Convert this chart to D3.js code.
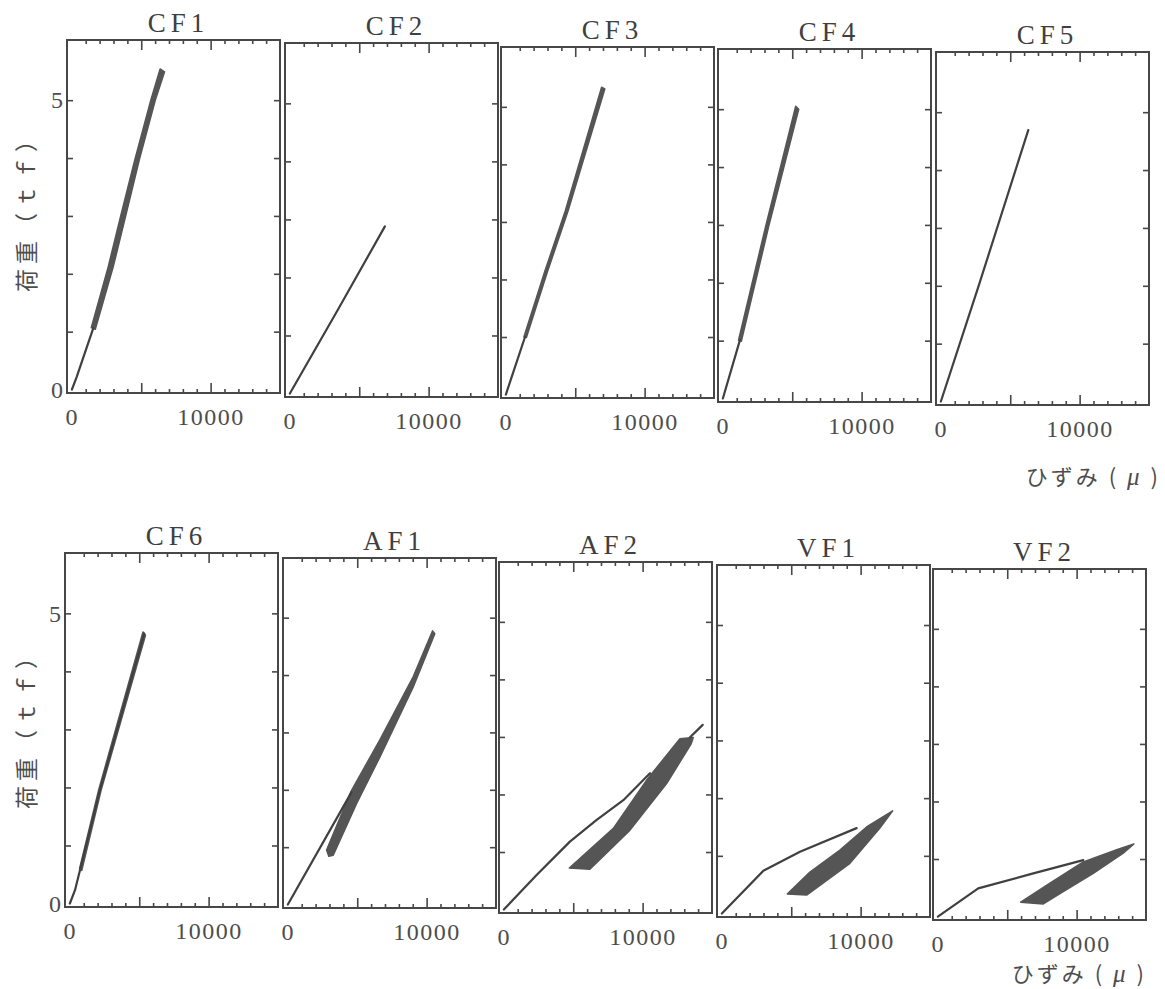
<!DOCTYPE html>
<html>
<head>
<meta charset="utf-8">
<script src="https://cdn.jsdelivr.net/npm/d3@7"></script>
<style>
body { margin: 0; background: #ffffff; }
</style>
</head>
<body>
<svg id="chart" width="1165" height="989"></svg>
<script>
// panel titles, read left to right, top row first
var panelNames = ["CF1", "CF2", "CF3", "CF4", "CF5", "CF6", "AF1", "AF2", "VF1", "VF2"];
var xTickLabels = [0, 10000];
var yTickLabels = [0, 5];

// monotonic loading curve of each specimen, [strain (μ), load (tf)]
var cf1Initial = [[0, 0], [350, 0.22], [1545, 1.06]];
var cf2Initial = [[0, 0], [3450, 1.44], [6850, 2.88]];
var cf3Initial = [[0, 0], [1380, 1.0]];
var cf4Initial = [[0, 0], [1230, 1.01]];
var cf5Initial = [[0, 0], [2700, 1.98], [6300, 4.69]];
var cf6Initial = [[0, 0], [370, 0.23], [2170, 1.96], [5360, 4.65]];
var af1Initial = [[0, 0], [4590, 1.96]];
var af2Initial = [[0, 0], [2360, 0.6], [4760, 1.18], [6690, 1.56], [8610, 1.9], [10530, 2.37]];
var vf1Initial = [[0, 0], [2990, 0.74], [5630, 1.07], [9710, 1.48]];
var vf2Initial = [[0, 0], [2910, 0.49], [6880, 0.75], [10480, 0.98]];

// outline of the repeated-load loops (up the left edge, down the right edge)
var cf1Band = [[1400, 1.07], [2620, 2.12], [3520, 3.0], [4540, 3.97], [5690, 5.0], [6360, 5.54],
               [6680, 5.49], [6010, 5.0], [4860, 3.97], [3880, 3.0], [2980, 2.12], [1690, 1.04]];
var cf2Band = [];
var cf3Band = [[1300, 1.0], [2820, 2.15], [4280, 3.19], [6900, 5.34],
               [7130, 5.31], [4480, 3.19], [3020, 2.15], [1480, 0.99]];
var cf4Band = [[1130, 1.01], [3080, 2.97], [5250, 5.05],
               [5470, 5.0], [3300, 2.97], [1330, 0.99]];
var cf5Band = [];
var cf6Band = [[700, 0.6], [2080, 1.96], [5270, 4.68], [5450, 4.62], [2260, 1.96], [860, 0.57]];
var af1Band = [[2790, 0.95], [4590, 1.99], [6630, 2.87], [9030, 3.97], [10430, 4.77],
               [10590, 4.72], [9030, 3.79], [6630, 2.57], [4950, 1.76], [3270, 0.86], [2950, 0.84]];
var af2Band = [[4720, 0.72], [7890, 1.41], [10290, 2.25], [12690, 2.97], [13650, 2.99],
               [13500, 2.88], [11730, 2.19], [9090, 1.38], [6200, 0.7]];
var vf1Band = [[4710, 0.34], [6350, 0.72], [8510, 1.1], [10430, 1.5], [12310, 1.78],
               [11390, 1.48], [9230, 0.87], [6110, 0.32]];
var vf2Band = [[5970, 0.25], [8080, 0.58], [10480, 0.95], [12890, 1.16], [14130, 1.26],
               [13360, 1.10], [11200, 0.75], [8800, 0.4], [7600, 0.22]];

// last loading up to failure
var af2Final = [[13400, 2.99], [14330, 3.21]];

var initialCurves = [cf1Initial, cf2Initial, cf3Initial, cf4Initial, cf5Initial,
                     cf6Initial, af1Initial, af2Initial, vf1Initial, vf2Initial];
var cyclicBands = [cf1Band, cf2Band, cf3Band, cf4Band, cf5Band,
                   cf6Band, af1Band, af2Band, vf1Band, vf2Band];
var finalCurves = [[], [], [], [], [], [], [], af2Final, [], []];

// frame of each panel on the page (the scan is slightly skewed)
var panelLeft = [67, 285, 501, 718, 936, 65, 283, 499, 717, 933];
var panelTop = [40, 43, 47, 49, 52, 553, 558, 562, 565, 569];
var panelBottom = [393, 397, 398, 402, 405, 907, 908, 913, 917, 920];
var panelWidth = 213;

var ink = "#474747";
var textInk = "#4d4d4d";
var numFont = "'Liberation Serif', 'DejaVu Serif', serif";
var cjkFont = "'Noto Sans CJK JP', 'Noto Sans CJK SC', sans-serif";

var svg = d3.select("#chart");

panelNames.forEach(function(name, i) {
    var left = panelLeft[i], right = panelLeft[i] + panelWidth;
    var top = panelTop[i], bottom = panelBottom[i];

    var x = d3.scaleLinear().domain([-350, 15000]).range([left, right]);
    var y = d3.scaleLinear().domain([-0.06, 6.04]).range([bottom, top]);

    var g = svg.append("g").attr("class", "panel");

    // minor and major ticks, pointing inward on all four sides
    var minorX = d3.range(1000, 15000, 1000).filter(function(v) { return v % 5000 != 0; });
    var majorX = [5000, 10000];
    var yTicks = d3.range(1, 6);

    function tickAxis(axis, tx, ty) {
        var a = g.append("g").attr("transform", "translate(" + tx + "," + ty + ")").call(axis);
        a.select(".domain").remove();
        a.selectAll("text").remove();
        a.selectAll("line").attr("stroke", ink).attr("stroke-width", 1.6);
        return a;
    }
    tickAxis(d3.axisBottom(x).tickValues(minorX).tickSize(-4), 0, bottom);
    tickAxis(d3.axisBottom(x).tickValues(majorX).tickSize(-10), 0, bottom);
    tickAxis(d3.axisTop(x).tickValues(minorX).tickSize(-4), 0, top);
    tickAxis(d3.axisTop(x).tickValues(majorX).tickSize(-10), 0, top);
    tickAxis(d3.axisLeft(y).tickValues(yTicks).tickSize(-6), left, 0);
    tickAxis(d3.axisRight(y).tickValues(yTicks).tickSize(-6), right, 0);

    g.append("rect")
        .attr("x", left).attr("y", top)
        .attr("width", panelWidth).attr("height", bottom - top)
        .attr("fill", "none").attr("stroke", ink).attr("stroke-width", 2);

    // strain labels under every panel
    var xl = g.append("g").attr("transform", "translate(0," + bottom + ")")
        .call(d3.axisBottom(x).tickValues(xTickLabels).tickSize(0).tickPadding(15).tickFormat(d3.format("d")));
    xl.select(".domain").remove();
    xl.selectAll("text")
        .attr("font-family", numFont).attr("font-size", 24)
        .attr("letter-spacing", 1.5).attr("fill", textInk);

    // load labels only on the first column
    if (i % 5 == 0) {
        var yl = g.append("g").attr("transform", "translate(" + left + ",0)")
            .call(d3.axisLeft(y).tickValues(yTickLabels).tickSize(0).tickPadding(4).tickFormat(d3.format("d")));
        yl.select(".domain").remove();
        yl.selectAll("text")
            .attr("font-family", numFont).attr("font-size", 24).attr("fill", textInk);
    }

    g.append("text")
        .attr("x", (left + right) / 2 + 5).attr("y", top - 8)
        .attr("text-anchor", "middle")
        .attr("font-family", numFont).attr("font-size", 27)
        .attr("letter-spacing", 5).attr("fill", "#3f3f3f")
        .text(name);

    var line = d3.line()
        .x(function(d) { return x(d[0]); })
        .y(function(d) { return y(d[1]); });

    if (cyclicBands[i].length) {
        g.append("path")
            .attr("d", line(cyclicBands[i]) + "Z")
            .attr("fill", "#555555").attr("stroke", "#555555")
            .attr("stroke-width", 1.5).attr("stroke-linejoin", "round");
    }
    g.append("path")
        .attr("d", line(initialCurves[i]))
        .attr("fill", "none").attr("stroke", "#404040")
        .attr("stroke-width", 2.2).attr("stroke-linejoin", "round").attr("stroke-linecap", "round");
    if (finalCurves[i].length) {
        g.append("path")
            .attr("d", line(finalCurves[i]))
            .attr("fill", "none").attr("stroke", "#404040")
            .attr("stroke-width", 2.2).attr("stroke-linecap", "round");
    }
});

// axis titles
[208, 725].forEach(function(cy) {
    svg.append("text")
        .attr("transform", "translate(25," + cy + ") rotate(-90)")
        .attr("text-anchor", "middle").attr("dominant-baseline", "central")
        .attr("font-family", cjkFont).attr("font-size", 23)
        .attr("letter-spacing", 5).attr("fill", textInk)
        .text("荷重（ｔｆ）");
});

[[1161, 485], [1147, 982]].forEach(function(p) {
    var t = svg.append("text")
        .attr("x", p[0]).attr("y", p[1])
        .attr("text-anchor", "end")
        .attr("font-family", cjkFont).attr("font-size", 22)
        .attr("letter-spacing", 3).attr("fill", textInk);
    t.append("tspan").text("ひずみ ( ");
    t.append("tspan").attr("font-family", numFont).attr("font-style", "italic").attr("font-size", 25).text("μ");
    t.append("tspan").text(" )");
});
</script>
</body>
</html>
